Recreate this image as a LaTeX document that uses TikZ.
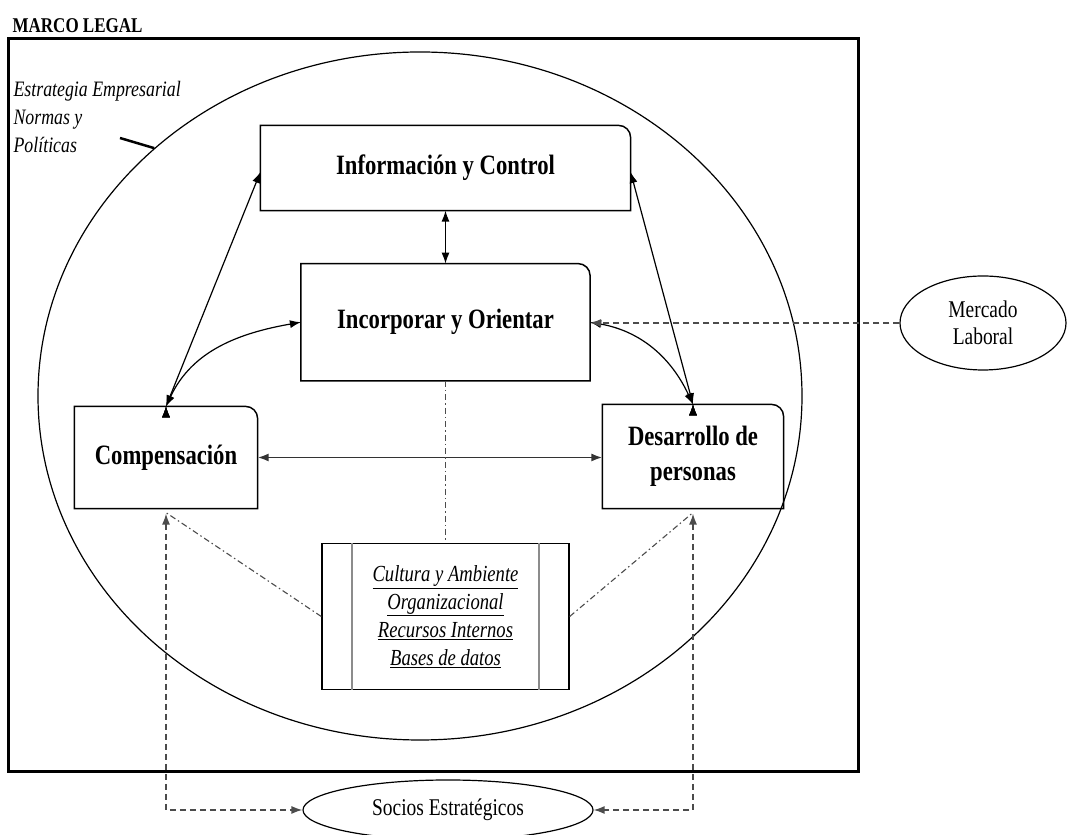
\documentclass[tikz,border=0pt]{standalone}
\usepackage{fontspec}
\setmainfont{Liberation Serif}[FakeStretch=0.81]
\usepackage{tikz}
\usetikzlibrary{arrows.meta, positioning, shapes.geometric}
\colorlet{colorTrazo}{black!70}
\colorlet{colorBarra}{black!45}
\tikzset{
  caja/.style={inner sep=0pt, align=center, font=\fontsize{28}{35}\selectfont\bfseries},
  elipse/.style={draw, ellipse, line width=1.2pt, inner sep=0pt, align=center, font=\fontsize{24}{27}\selectfont},
  punteado/.style={colorTrazo, line width=1.4pt, dash pattern=on 6pt off 4pt},
  rayapunto/.style={colorTrazo, line width=1.1pt, dash pattern=on 6pt off 3pt on 1.5pt off 3pt}
}
\newcommand{\esquina}[1]{\draw[line width=1.5pt] (#1.south east) -- ([yshift=-12pt]#1.north east) arc[start angle=0, end angle=90, radius=12pt] -- (#1.north west) -- (#1.south west) -- cycle;}

\begin{document}
\begin{tikzpicture}[x=1pt, y=1pt, >={Latex[length=11pt, width=8pt]}, line width=1.2pt]
\useasboundingbox (0,0) rectangle (1069,835);
\node[anchor=base west, inner sep=0pt, font=\fontsize{21}{25}\selectfont\bfseries] (titulo) at (12,802) {MARCO LEGAL};
\draw[line width=3pt] (8,796) rectangle (858,63);
\node[draw, ellipse, line width=1.2pt, minimum width=764pt, minimum height=688pt] (org) at (420,439) {};
\node[anchor=north west, inner sep=0pt, align=left, font=\fontsize{22}{28}\selectfont\itshape] (estrategia) at (13,754) {Estrategia Empresarial\\Normas y\\Políticas};
\coordinate (flecha) at (120,697);
\draw[line width=2.5pt] (flecha) -- (org.137.7);
\node[caja, minimum width=369pt, minimum height=84pt] (info) at (445.5,667) {Información y Control};
\node[caja, minimum width=288pt, minimum height=116pt, below=53pt of info] (incorp) {Incorporar y Orientar};
\node[caja, minimum width=182pt, minimum height=101pt] (comp) at (166,377.5) {Compensación};
\node[caja, minimum width=180pt, minimum height=103pt] (desa) at (693,378.5) {Desarrollo de\\personas};
\foreach \n in {info, incorp, comp, desa} {\esquina{\n}}
\node[draw, line width=1.4pt, minimum width=247pt, minimum height=146pt, inner sep=0pt, align=center, font=\fontsize{23}{28}\selectfont\itshape, below=162pt of incorp] (cultura) {\underline{Cultura y Ambiente}\\\underline{Organizacional}\\\underline{Recursos Internos}\\\underline{Bases de datos}};
\draw[colorBarra, line width=1.8pt] ([xshift=31pt]cultura.north west) -- ([xshift=31pt]cultura.south west);
\draw[colorBarra, line width=1.8pt] ([xshift=-31pt]cultura.north east) -- ([xshift=-31pt]cultura.south east);
\node[elipse, minimum width=166pt, minimum height=94pt] (mercado) at (983,512) {Mercado\\Laboral};
\node[elipse, minimum width=290pt, minimum height=60pt] (socios) at (448,25) {Socios Estratégicos};
\draw [<->] (info.south) -- (info.south |- incorp.north);
\draw [<->, black!80, line width=1.8pt] (comp.east) -- (comp.east -| desa.west);
\draw [<->] (comp.north) edge ([yshift=-4pt]info.west);
\draw [<->] (desa.north) edge ([yshift=-4pt]info.east);
\draw [<->] (comp.north) edge [out=65, in=190] (incorp.west);
\draw [<->] (desa.north) edge [out=115, in=-10] (incorp.east);
\draw [->, punteado] (mercado.west) -- (mercado.west -| incorp.east);
\draw [<->, punteado] ([yshift=-5pt]comp.south) |- (socios.west);
\draw [<->, punteado] ([yshift=-5pt]desa.south) |- (socios.east);
\draw [rayapunto] (incorp.south) -- (cultura.north);
\draw [rayapunto] (cultura.west) -- ([yshift=-4pt]comp.south);
\draw [rayapunto] (cultura.east) -- ([yshift=-4pt]desa.south);
\end{tikzpicture}
\end{document}
